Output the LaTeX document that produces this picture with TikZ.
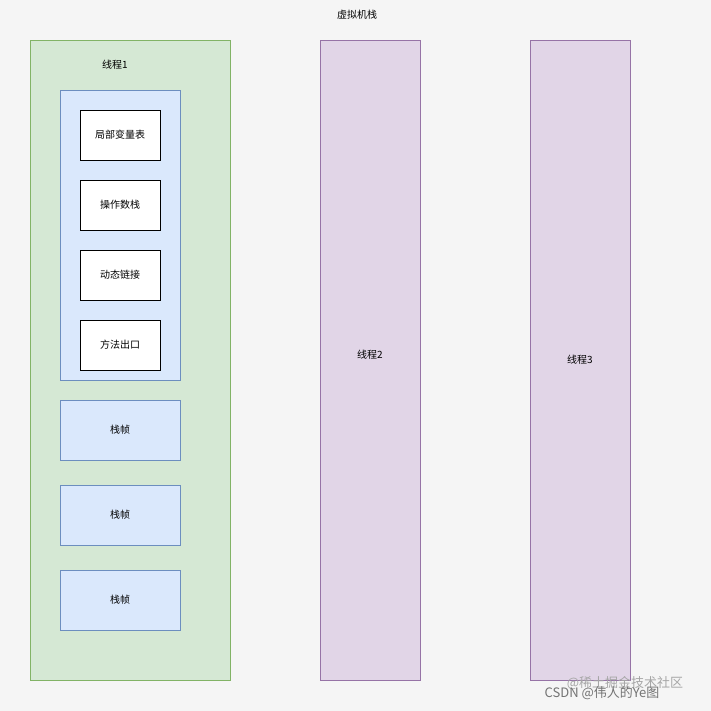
\documentclass[tikz,border=0pt]{standalone}
\usepackage{fontspec}
\setmainfont{Noto Sans CJK SC}
\begin{document}
\begin{tikzpicture}[x=1pt,y=-1pt,font=\fontsize{10}{12}\selectfont,
  box/.style={draw=black,fill=white,line width=0.6pt,minimum width=80pt,minimum height=50pt,inner sep=0pt},
  frm/.style={draw={rgb,255:red,108;green,142;blue,191},fill={rgb,255:red,218;green,232;blue,252},line width=0.5pt,minimum width=120pt,minimum height=60pt,inner sep=0pt}]
\useasboundingbox (0,0) rectangle (711,711);
\fill[gray!8] (0,0) rectangle (711,711);
\node (title) at (357,15) {虚拟机栈};
\draw[fill={rgb,255:red,213;green,232;blue,212},draw={rgb,255:red,130;green,179;blue,102}] (30,40) rectangle (230,680);
\node (t1) at (115,65) {线程1};
\draw[fill={rgb,255:red,218;green,232;blue,252},draw={rgb,255:red,108;green,142;blue,191}] (60,90) rectangle (180,380);
\node[box] (a) at (120,135) {局部变量表};
\node[box] (b) at (120,205) {操作数栈};
\node[box] (c) at (120,275) {动态链接};
\node[box] (d) at (120,345) {方法出口};
\node[frm] (f1) at (120,430) {栈帧};
\node[frm] (f2) at (120,515) {栈帧};
\node[frm] (f3) at (120,600) {栈帧};
\draw[fill={rgb,255:red,225;green,213;blue,231},draw={rgb,255:red,150;green,115;blue,166}] (320,40) rectangle (420,680);
\node (t2) at (370,355) {线程2};
\draw[fill={rgb,255:red,225;green,213;blue,231},draw={rgb,255:red,150;green,115;blue,166}] (530,40) rectangle (630,680);
\node (t3) at (580,360) {线程3};
\node[gray!70,font=\fontsize{13}{14}\selectfont] (w1) at (625,683) {@稀土掘金技术社区};
\node[gray!90!black,font=\fontsize{13}{14}\selectfont] (w2) at (602,693) {CSDN @伟人的Ye图};
\end{tikzpicture}
\end{document}
